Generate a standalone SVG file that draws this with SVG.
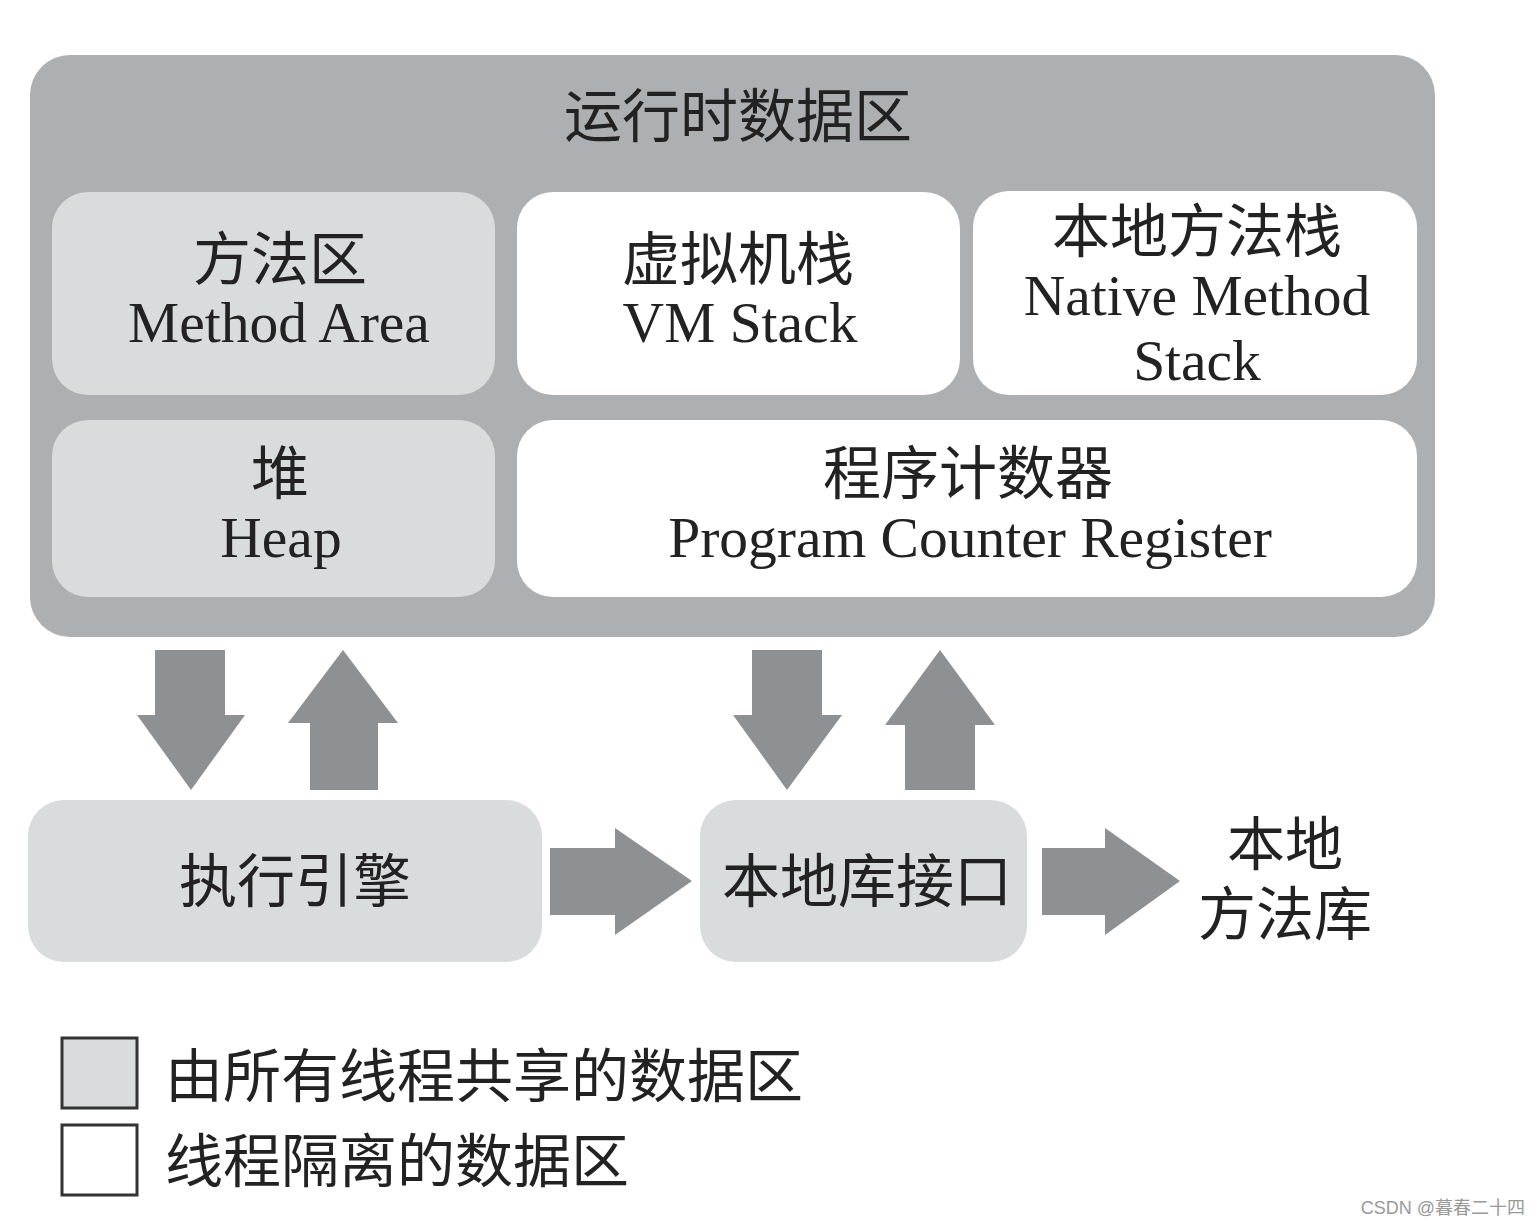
<svg xmlns="http://www.w3.org/2000/svg" width="1540" height="1226" viewBox="0 0 1540 1226">
<style>
.outer{fill:#adb0b2}
.shared{fill:#d9dcdd}
.priv{fill:#ffffff}
.arr{fill:#8e9193}
.cn{font-family:"Liberation Serif","Noto Sans CJK SC",serif;font-size:58px;fill:#222;text-anchor:middle}
.en{font-family:"Liberation Serif","Noto Sans CJK SC",serif;font-size:57.5px;fill:#222;text-anchor:middle}
.leg{font-family:"Liberation Serif","Noto Sans CJK SC",serif;font-size:58px;fill:#222}
.wm{font-family:"Liberation Sans","Noto Sans CJK SC",sans-serif;font-size:18px;fill:#999;text-anchor:end}
</style>
<rect width="1540" height="1226" fill="#ffffff"/>
<g id="runtime-data-area">
<rect class="outer" x="30" y="55" width="1405" height="582" rx="40"/>
<text class="cn" x="738" y="137">运行时数据区</text>
</g>
<g id="method-area">
<rect class="shared" x="52" y="192" width="443" height="203" rx="36"/>
<text class="cn" x="280" y="280">方法区</text>
<text class="en" x="279" y="342">Method Area</text>
</g>
<g id="vm-stack">
<rect class="priv" x="517" y="192" width="443" height="203" rx="36"/>
<text class="cn" x="738" y="280">虚拟机栈</text>
<text class="en" x="740" y="342">VM Stack</text>
</g>
<g id="native-method-stack">
<rect class="priv" x="973" y="191" width="444" height="204" rx="36"/>
<text class="cn" x="1197" y="252">本地方法栈</text>
<text class="en" x="1197" y="315">Native Method</text>
<text class="en" x="1197" y="380">Stack</text>
</g>
<g id="heap">
<rect class="shared" x="52" y="420" width="443" height="177" rx="36"/>
<text class="cn" x="280" y="494">堆</text>
<text class="en" x="281" y="557">Heap</text>
</g>
<g id="pc-register">
<rect class="priv" x="517" y="420" width="900" height="177" rx="36"/>
<text class="cn" x="968" y="494">程序计数器</text>
<text class="en" x="970" y="557">Program Counter Register</text>
</g>
<g id="execution-engine">
<rect class="shared" x="28" y="800" width="514" height="162" rx="36"/>
<text class="cn" x="295" y="902">执行引擎</text>
</g>
<g id="native-interface">
<rect class="shared" x="700" y="800" width="327" height="162" rx="36"/>
<text class="cn" x="867" y="902">本地库接口</text>
</g>
<g id="native-library">
<text class="cn" x="1285" y="865">本地</text>
<text class="cn" x="1285" y="935">方法库</text>
</g>
<g id="connectors">
<polygon class="arr" points="155,650 225,650 225,715 245,715 191,790 137,715 155,715"/>
<polygon class="arr" points="343,650 398,723 378,723 378,790 310,790 310,723 288,723"/>
<polygon class="arr" points="752,650 822,650 822,715 842,715 787,790 733,715 752,715"/>
<polygon class="arr" points="940,650 995,725 975,725 975,790 905,790 905,725 885,725"/>
<polygon class="arr" points="550,848 615,848 615,828 692,881 615,935 615,915 550,915"/>
<polygon class="arr" points="1042,848 1105,848 1105,828 1180,881 1105,935 1105,915 1042,915"/>
</g>
<g id="legend">
<rect x="62" y="1038" width="75" height="70" fill="#d9dcdd" stroke="#333" stroke-width="3"/>
<text class="leg" x="165" y="1097">由所有线程共享的数据区</text>
<rect x="62" y="1125" width="75" height="70" fill="#ffffff" stroke="#333" stroke-width="3"/>
<text class="leg" x="165" y="1182">线程隔离的数据区</text>
</g>
<text class="wm" x="1525" y="1214">CSDN @暮春二十四</text>
</svg>
